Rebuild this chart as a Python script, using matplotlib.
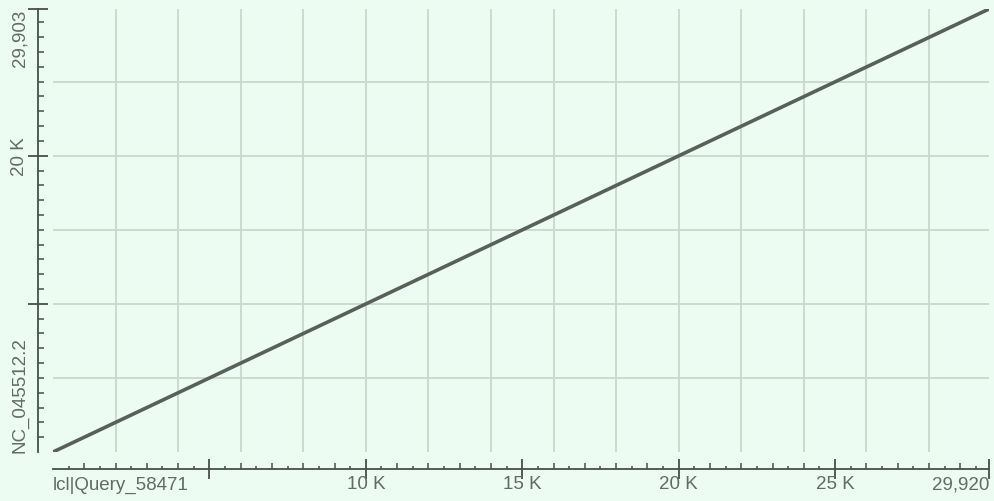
import numpy as np
import matplotlib
matplotlib.use("Agg")
import matplotlib.pyplot as plt
from matplotlib.transforms import blended_transform_factory

plt.rcParams['font.family'] = ['Liberation Sans', 'DejaVu Sans']

# alignment of query vs subject (start, end)
query_pos = [1, 29920]
subject_pos = [1, 29903]
query_len = 29920
subject_len = 29903
query_name = "lcl|Query_58471"
subject_name = "NC_045512.2"

x_major = [5000, 10000, 15000, 20000, 25000, 29920]
x_major_labels = ["", "10 K", "15 K", "20 K", "25 K", "29,920"]
y_major = [10000, 20000, 29903]
y_major_labels = ["", "20 K", "29,903"]

bg = "#edfcf3"
grid_col = "#c8d9cc"
axis_col = "#474f4a"
text_col = "#626b66"
line_col = "#58605b"
fs = 13.5

fig = plt.figure(figsize=(9.94, 5.02), dpi=100, facecolor=bg)
pos = [53 / 994, 49 / 502, 936 / 994, 443 / 502]

# plot area: grid + alignment line
ax = fig.add_axes(pos)
ax.set_facecolor(bg)
ax.set_xlim(0, query_len)
ax.set_ylim(0, subject_len)
ax.set_xticks(np.arange(2000, query_len, 2000))
ax.set_yticks(np.arange(5000, subject_len, 5000))
ax.tick_params(length=0, labelbottom=False, labelleft=False)
ax.grid(True, color=grid_col, linewidth=1.3)
for s in ax.spines.values():
    s.set_visible(False)
ax.plot(query_pos, subject_pos, color=line_col, linewidth=2.6, solid_capstyle='round', zorder=3)

# axes with ticks
axt = fig.add_axes(pos)
axt.patch.set_visible(False)
axt.set_xlim(0, query_len)
axt.set_ylim(0, subject_len)
for side in ['top', 'right']:
    axt.spines[side].set_visible(False)
axt.spines['bottom'].set_position(('outward', 12))
axt.spines['left'].set_position(('outward', 11))
for side in ['bottom', 'left']:
    axt.spines[side].set_color(axis_col)
    axt.spines[side].set_linewidth(1.3)
axt.set_xticks(x_major)
axt.set_xticklabels([])
axt.set_yticks(y_major)
axt.set_yticklabels([])
axt.set_xticks(np.arange(1000, query_len, 1000), minor=True)
axt.set_yticks(np.arange(1000, subject_len, 1000), minor=True)
axt.tick_params(which='major', direction='inout', length=15, width=1.3, color=axis_col)
axt.tick_params(which='minor', direction='in', length=4.5, width=1.1, color=axis_col)

# half-step ticks on the x axis
axh = fig.add_axes(pos)
axh.patch.set_visible(False)
axh.set_xlim(0, query_len)
axh.set_ylim(0, subject_len)
for side in ['top', 'right', 'left']:
    axh.spines[side].set_visible(False)
axh.spines['bottom'].set_position(('outward', 12))
axh.spines['bottom'].set_visible(False)
axh.set_xticks(np.arange(500, query_len, 1000))
axh.set_yticks([])
axh.tick_params(axis='x', direction='in', length=2.2, width=1.1, color=axis_col, labelbottom=False)

# labels
tx = blended_transform_factory(axt.transData, fig.transFigure)
ylab = 17 / 502
for v, lab in zip(x_major, x_major_labels):
    if lab:
        ha = 'right' if v == query_len else 'center'
        axt.text(v, ylab, lab, transform=tx, ha=ha, va='center', fontsize=fs, color=text_col)
axt.text(0, ylab, query_name, transform=tx, ha='left', va='center', fontsize=fs, color=text_col)

ty = blended_transform_factory(fig.transFigure, axt.transData)
xlab = 20 / 994
for v, lab in zip(y_major, y_major_labels):
    if lab:
        va = 'top' if v == subject_len else 'center'
        axt.text(xlab, v, lab, transform=ty, rotation=90, ha='center', va=va, fontsize=fs, color=text_col)
axt.text(xlab, 0, subject_name, transform=ty, rotation=90, ha='center', va='bottom', fontsize=fs, color=text_col)

fig.savefig("out.png", dpi=100, facecolor=bg)
